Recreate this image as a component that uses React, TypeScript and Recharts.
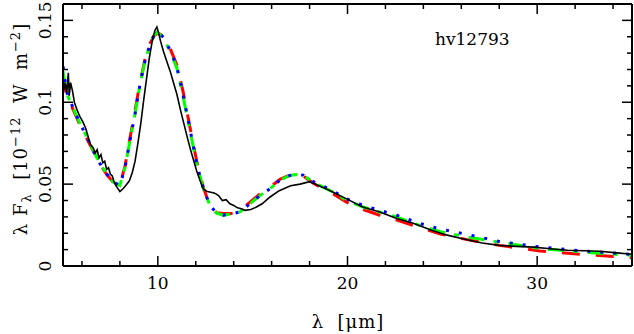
import React from 'react';
import { LineChart, Line, XAxis, YAxis } from 'recharts';

// observed spectrum (black)
const obsWave = [
  5.0, 5.1, 5.2, 5.28, 5.33, 5.4, 5.5, 5.6, 5.75, 5.9, 6.05, 6.2, 6.35, 6.45, 6.6, 6.7, 6.8, 6.9,
  7.0, 7.1, 7.2, 7.3, 7.4, 7.5, 7.6, 7.7, 7.85, 8.0, 8.15, 8.3, 8.5, 8.65, 8.8, 8.95, 9.1, 9.25,
  9.4, 9.55, 9.7, 9.85, 9.95, 10.05, 10.15, 10.3, 10.5, 10.65, 10.85, 11.0, 11.2, 11.35, 11.5,
  11.7, 11.9, 12.05, 12.2, 12.4, 12.6, 12.8, 13.0, 13.2, 13.4, 13.6, 13.8, 14.0, 14.2, 14.4, 14.6,
  14.9, 15.2, 15.5, 15.9, 16.4, 17.0, 17.5, 18.0, 18.3, 18.7, 19.25, 19.95, 20.8, 21.7, 22.6,
  23.5, 24.4, 25.2, 26.3, 27.1, 28.0, 28.9, 29.8, 30.7, 31.6, 32.5, 33.3, 34.2, 35.0,
];
const obsFlux = [
  0.104, 0.112, 0.106, 0.118, 0.104, 0.112, 0.107, 0.1, 0.095, 0.091, 0.088, 0.084, 0.078, 0.074,
  0.072, 0.069, 0.071, 0.066, 0.068, 0.063, 0.064, 0.059, 0.06, 0.056, 0.055, 0.051, 0.048, 0.0455,
  0.047, 0.049, 0.052, 0.057, 0.064, 0.075, 0.087, 0.101, 0.114, 0.127, 0.137, 0.144, 0.146, 0.142,
  0.137, 0.131, 0.124, 0.119, 0.111, 0.105, 0.095, 0.088, 0.081, 0.072, 0.064, 0.058, 0.053, 0.047,
  0.0455, 0.045, 0.0445, 0.043, 0.04, 0.0405, 0.038, 0.037, 0.0355, 0.035, 0.034, 0.0345, 0.036,
  0.038, 0.042, 0.046, 0.049, 0.05, 0.0515, 0.05, 0.048, 0.045, 0.041, 0.036, 0.033, 0.029, 0.026,
  0.022, 0.019, 0.016, 0.014, 0.0126, 0.012, 0.0115, 0.0105, 0.0096, 0.0093, 0.009, 0.008, 0.0072,
];

// models
const modelWave = [
  5.0, 5.2, 5.55, 5.9, 6.25, 6.6, 6.95, 7.3, 7.65, 8.0, 8.27, 8.53, 8.8, 9.06, 9.32, 9.59, 9.8,
  9.95, 10.15, 10.3, 10.64, 11.0, 11.34, 11.69, 12.05, 12.4, 12.75, 13.1, 13.45, 13.97, 14.33,
  14.86, 15.38, 15.9, 16.44, 16.97, 17.3, 17.67, 18.2, 18.72, 19.25, 19.95, 20.83, 21.7, 22.6,
  23.8, 24.9, 26.3, 28.0, 30.15, 32.4, 35.0,
];
const redFlux = [
  0.117, 0.104, 0.095, 0.086, 0.078, 0.07, 0.062, 0.056, 0.051, 0.0495, 0.061, 0.078, 0.095,
  0.112, 0.126, 0.136, 0.1405, 0.142, 0.1415, 0.1395, 0.133, 0.123, 0.106, 0.085, 0.064, 0.048,
  0.0365, 0.0325, 0.032, 0.032, 0.034, 0.039, 0.044, 0.048, 0.053, 0.0555, 0.0558, 0.055, 0.0505,
  0.047, 0.044, 0.039, 0.0345, 0.031, 0.028, 0.0235, 0.0195, 0.0161, 0.0126, 0.0092, 0.0071, 0.0051,
];
const greenFlux = [
  0.119, 0.105, 0.096, 0.087, 0.079, 0.0705, 0.0625, 0.0563, 0.0512, 0.0492, 0.06, 0.0766, 0.093,
  0.111, 0.125, 0.1356, 0.141, 0.1427, 0.141, 0.139, 0.1315, 0.121, 0.103, 0.083, 0.0624, 0.0472,
  0.037, 0.0323, 0.031, 0.032, 0.033, 0.038, 0.043, 0.047, 0.0525, 0.0553, 0.0558, 0.0553, 0.0512,
  0.0482, 0.0451, 0.04, 0.036, 0.0329, 0.0299, 0.0248, 0.021, 0.0177, 0.0146, 0.0106, 0.0085, 0.0065,
];
const blueFlux = [
  0.122, 0.106, 0.096, 0.087, 0.079, 0.0705, 0.0625, 0.0563, 0.0512, 0.0492, 0.06, 0.0766, 0.093,
  0.111, 0.125, 0.1356, 0.141, 0.1427, 0.1415, 0.1395, 0.132, 0.122, 0.104, 0.084, 0.0624, 0.0472,
  0.037, 0.0323, 0.031, 0.032, 0.033, 0.038, 0.043, 0.047, 0.0525, 0.0553, 0.0558, 0.0555, 0.0515,
  0.0487, 0.0458, 0.041, 0.037, 0.034, 0.031, 0.026, 0.0225, 0.0193, 0.015, 0.0116, 0.0092, 0.0071,
];

const xTicks = [6, 8, 10, 12, 14, 16, 18, 20, 22, 24, 26, 28, 30, 32, 34];
const yTicks = [0, 0.01, 0.02, 0.03, 0.04, 0.05, 0.06, 0.07, 0.08, 0.09, 0.1, 0.11, 0.12, 0.13, 0.14, 0.15];

const FONT = 'DejaVu Serif';
const toPoints = (w: number[], f: number[]) => w.map((x, i) => ({ x, y: f[i] }));

const obsData = toPoints(obsWave, obsFlux);
const redData = toPoints(modelWave, redFlux);
const greenData = toPoints(modelWave, greenFlux);
const blueData = toPoints(modelWave, blueFlux);

const isMajorX = (v: number) => v % 10 === 0;
const isMajorY = (v: number) => Math.abs(v * 20 - Math.round(v * 20)) < 1e-6;

// ---- ticks (drawn inward, like the frame of the original plot) ----
function BottomTick(props: any) {
  const { x, y, payload } = props;
  const major = isMajorX(payload.value);
  return (
    <g>
      <line x1={x} y1={y} x2={x} y2={y - (major ? 10 : 5)} stroke="#000" strokeWidth={1.5} />
      {major && (
        <text x={x} y={y + 23} textAnchor="middle" fontFamily={FONT} fontSize={17} fill="#000">
          {payload.value}
        </text>
      )}
    </g>
  );
}

function TopTick(props: any) {
  const { x, y, payload } = props;
  const major = isMajorX(payload.value);
  return <line x1={x} y1={y} x2={x} y2={y + (major ? 10 : 5)} stroke="#000" strokeWidth={1.5} />;
}

function LeftTick(props: any) {
  const { x, y, payload } = props;
  const v = payload.value as number;
  const major = isMajorY(v);
  return (
    <g>
      {v > 0 && <line x1={x} y1={y} x2={x + (major ? 10 : 5)} y2={y} stroke="#000" strokeWidth={1.5} />}
      {major && (
        <text
          transform={`translate(${x - 12.5},${y}) rotate(-90)`}
          textAnchor="middle"
          fontFamily={FONT}
          fontSize={17}
          fill="#000"
        >
          {v === 0 ? '0' : String(v)}
        </text>
      )}
    </g>
  );
}

function RightTick(props: any) {
  const { x, y, payload } = props;
  const v = payload.value as number;
  if (v <= 0) return <g />;
  const major = isMajorY(v);
  return <line x1={x} y1={y} x2={x - (major ? 10 : 5)} y2={y} stroke="#000" strokeWidth={1.5} />;
}

export default function App() {
  const axisLine = { stroke: '#000', strokeWidth: 2 };
  return (
    <div style={{ position: 'relative', width: 634, height: 334, background: '#fff' }}>
      <style>{'body{margin:0}'}</style>
      <LineChart width={634} height={334} margin={{ top: 0, right: 0, bottom: 0, left: 0 }}>
        <XAxis
          dataKey="x"
          type="number"
          domain={[5, 35]}
          allowDataOverflow
          ticks={xTicks}
          interval={0}
          height={68}
          axisLine={axisLine}
          tickLine={false}
          tickSize={0}
          tickMargin={0}
          tick={<BottomTick />}
        />
        <XAxis
          xAxisId="top"
          orientation="top"
          dataKey="x"
          type="number"
          domain={[5, 35]}
          allowDataOverflow
          ticks={xTicks}
          interval={0}
          height={4}
          axisLine={axisLine}
          tickLine={false}
          tickSize={0}
          tickMargin={0}
          tick={<TopTick />}
        />
        <YAxis
          dataKey="y"
          type="number"
          domain={[0, 0.16]}
          allowDataOverflow
          ticks={yTicks}
          interval={0}
          width={63}
          axisLine={axisLine}
          tickLine={false}
          tickSize={0}
          tickMargin={0}
          tick={<LeftTick />}
        />
        <YAxis
          yAxisId="r"
          orientation="right"
          type="number"
          domain={[0, 0.16]}
          allowDataOverflow
          ticks={yTicks}
          interval={0}
          width={2}
          axisLine={axisLine}
          tickLine={false}
          tickSize={0}
          tickMargin={0}
          tick={<RightTick />}
        />
        <Line data={redData} dataKey="y" type="linear" stroke="#ff0000" strokeWidth={3}
          strokeDasharray="18 16" dot={false} isAnimationActive={false} />
        <Line data={greenData} dataKey="y" type="linear" stroke="#00ff00" strokeWidth={3}
          strokeDasharray="16 9 5 10" dot={false} isAnimationActive={false} />
        <Line data={blueData} dataKey="y" type="linear" stroke="#0000ff" strokeWidth={3}
          strokeDasharray="3 10" dot={false} isAnimationActive={false} />
        <Line data={obsData} dataKey="y" type="linear" stroke="#000" strokeWidth={1.6}
          dot={false} isAnimationActive={false} />
      </LineChart>
      <svg width={634} height={334} style={{ position: 'absolute', left: 0, top: 0, pointerEvents: 'none' }}>
        <text x={435} y={45} fontFamily={FONT} fontSize={17} fill="#000">hv12793</text>
        <text x={348} y={328} textAnchor="middle" fontFamily={FONT} fontSize={18} letterSpacing={1}
          fill="#000" style={{ whiteSpace: 'pre' }}>
          {'λ  [μm]'}
        </text>
        <text transform="translate(27,129) rotate(-90)" textAnchor="middle" fontFamily={FONT} fontSize={18}
          letterSpacing={1} fill="#000" style={{ whiteSpace: 'pre' }}>
          <tspan>{'λ F'}</tspan>
          <tspan dy={4} fontSize={13}>λ</tspan>
          <tspan dy={-4}>{'  [10'}</tspan>
          <tspan dy={-7} fontSize={13}>−12</tspan>
          <tspan dy={7}>{'  W  m'}</tspan>
          <tspan dy={-7} fontSize={13}>−2</tspan>
          <tspan dy={7}>]</tspan>
        </text>
      </svg>
    </div>
  );
}
